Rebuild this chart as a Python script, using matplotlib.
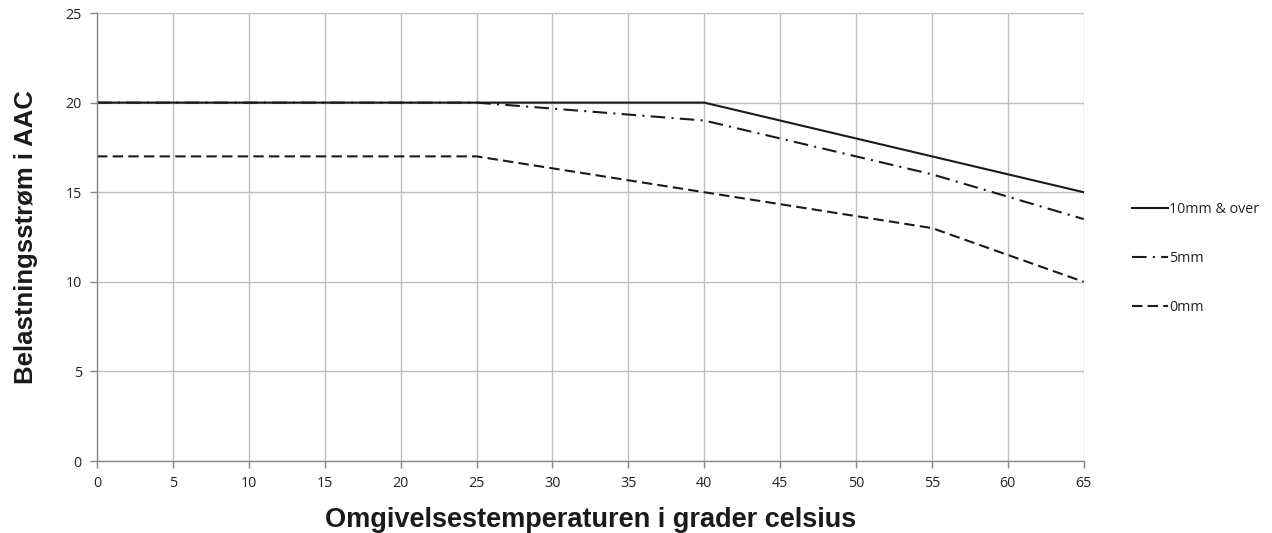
import numpy as np
import matplotlib.pyplot as plt

# temperature breakpoints (deg C) and load current (A AC)
temps_10mm = [0, 25, 40, 45, 50, 55, 60, 65]
amps_10mm = [20, 20, 20, 19, 18, 17, 16, 15]

temps_5mm = [0, 25, 40, 55, 65]
amps_5mm = [20, 20, 19, 16, 13.5]

temps_0mm = [0, 25, 40, 55, 65]
amps_0mm = [17, 17, 15, 13, 10]

labels = ['10mm & over', '5mm', '0mm']
x_ticks = np.arange(0, 70, 5)
y_ticks = np.arange(0, 30, 5)

fig = plt.figure(figsize=(12.72, 5.33), dpi=100)
ax = fig.add_axes([0.0763, 0.135, 0.7757, 0.8406])

line_col = '#1a1a1a'
ax.plot(temps_10mm, amps_10mm, color=line_col, lw=1.5, label=labels[0])
ax.plot(temps_5mm, amps_5mm, color=line_col, lw=1.5, linestyle=(0, (7, 3, 1, 3)), label=labels[1])
ax.plot(temps_0mm, amps_0mm, color=line_col, lw=1.5, linestyle=(0, (5, 2.5)), label=labels[2])

ax.set_xlim(0, 65)
ax.set_ylim(0, 25)
ax.set_xticks(x_ticks)
ax.set_yticks(y_ticks)
ax.grid(True, color='#bfbfbf', lw=1)
ax.set_axisbelow(True)

for s in ['top', 'right']:
    ax.spines[s].set_visible(False)
for s in ['left', 'bottom']:
    ax.spines[s].set_color('#888888')
    ax.spines[s].set_linewidth(1)

tick_font = 'Open Sans'
ax.tick_params(axis='both', colors='#888888', length=5, width=1, labelcolor='#222222', labelsize=10.3)
for lab in ax.get_xticklabels() + ax.get_yticklabels():
    lab.set_fontfamily(tick_font)
ax.tick_params(axis='x', pad=6)
ax.tick_params(axis='y', pad=6)

ax.set_xlabel('Omgivelsestemperaturen i grader celsius', fontsize=19.5, fontweight='bold',
              family='Liberation Sans', color='#1a1a1a', labelpad=11)
ax.set_ylabel('Belastningsstrøm i AAC', fontsize=18.5, fontweight='bold',
              family='Liberation Sans', color='#1a1a1a', labelpad=20)

leg = fig.legend(loc='center left', bbox_to_anchor=(0.880, 0.515), frameon=False,
                 handlelength=2.5, handletextpad=0.1, labelspacing=2.4,
                 prop={'family': tick_font, 'size': 10.3})
for t in leg.get_texts():
    t.set_color('#222222')

fig.savefig('out.png', dpi=100)
